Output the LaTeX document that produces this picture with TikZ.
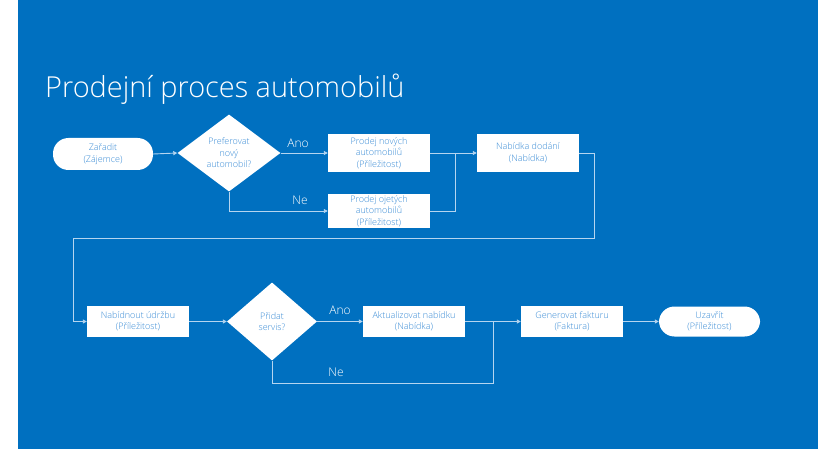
\documentclass[tikz,border=0pt]{standalone}
\usepackage{fontspec}
\setmainfont{Open Sans}[UprightFont=* Light]
\usetikzlibrary{shapes.geometric,arrows.meta}

\definecolor{bgblue}{HTML}{0070C0}
\definecolor{txtblue}{HTML}{3A8CD6}
\definecolor{lineclr}{HTML}{B5D5F0}

\tikzset{
    x=1pt, y=-1pt,
    procbox/.style={fill=white, minimum width=102pt, inner sep=0pt, align=center,
        text=txtblue, font=\fontsize{9}{11.5}\selectfont},
    termbox/.style={procbox, rounded corners=15.5pt},
    decbox/.style={diamond, fill=white, inner sep=0pt, align=center,
        text=txtblue, font=\fontsize{9}{11.5}\selectfont},
    flow/.style={draw=lineclr, line width=0.9pt, -{Triangle[length=4pt,width=4pt]}},
    joinline/.style={draw=lineclr, line width=0.9pt},
    branch/.style={text=white, font=\fontsize{12}{14}\selectfont, inner sep=0pt}
}

\begin{document}
\begin{tikzpicture}
        \useasboundingbox (0, 0) rectangle (835, 449);
        \fill [bgblue] (18, 0) rectangle (818, 449);

        \node[anchor=base west, text=white, inner sep=0pt, font=\fontsize{28.9}{34}\selectfont] (title) at (45, 98) {Prodejní proces automobilů};

        % prvni rada
        \node[termbox, minimum width=100pt, minimum height=32pt] (zaradit) at (103, 154) {Zařadit\\(Zájemce)};
        \node[decbox, minimum width=103pt, minimum height=77pt] (novy) at (229, 153) {Preferovat\\nový\\automobil?};
        \node[procbox, minimum height=38pt] (novych) at (379, 153) {Prodej nových\\automobilů\\(Příležitost)};
        \node[procbox, minimum height=34pt] (ojetych) at (379, 211) {Prodej ojetých\\automobilů\\(Příležitost)};
        \node[procbox, minimum height=38pt] (dodani) at (528, 153) {Nabídka dodání\\(Nabídka)};

        \node[branch] (ano1) at (298, 143) {Ano};
        \node[branch] (ne1) at (300, 200) {Ne};

        \draw[flow] (zaradit.east) -- (novy.west);
        \draw[flow] (novy.east) -- (novych.west);
        \draw[flow] (novy.south) |- (ojetych.west);
        \draw[flow] (novych.east) -- (dodani.west);
        \coordinate (spoj1) at (455, 153);
        \draw[joinline] (ojetych.east) -| (spoj1);

        % prechod na druhou radu
        \coordinate (zlom1) at (594, 238);
        \coordinate (zlom2) at (73, 238);

        % druha rada
        \node[procbox, minimum height=31pt] (udrzba) at (138, 321.5) {Nabídnout údržbu\\(Příležitost)};
        \node[decbox, minimum width=90pt, minimum height=78pt] (servis) at (272, 321.5) {Přidat\\servis?};
        \node[procbox, minimum height=31pt] (aktual) at (414, 321.5) {Aktualizovat nabídku\\(Nabídka)};
        \node[procbox, minimum height=31pt] (faktura) at (572, 321.5) {Generovat fakturu\\(Faktura)};
        \node[termbox, minimum width=101pt, minimum height=30pt] (uzavrit) at (709.5, 321.5) {Uzavřít\\(Příležitost)};

        \node[branch] (ano2) at (340, 310) {Ano};
        \node[branch] (ne2) at (336, 372) {Ne};

        \draw[flow] (dodani.east) -| (zlom1) -- (zlom2) |- (udrzba.west);
        \draw[flow] (udrzba.east) -- (servis.west);
        \draw[flow] (servis.east) -- (aktual.west);
        \draw[flow] (aktual.east) -- (faktura.west);
        \draw[flow] (faktura.east) -- (uzavrit.west);
        \coordinate (spoj2) at (493, 383);
        \draw[joinline] (servis.south) |- (spoj2) -- (spoj2 |- faktura.west);

\end{tikzpicture}
\end{document}
